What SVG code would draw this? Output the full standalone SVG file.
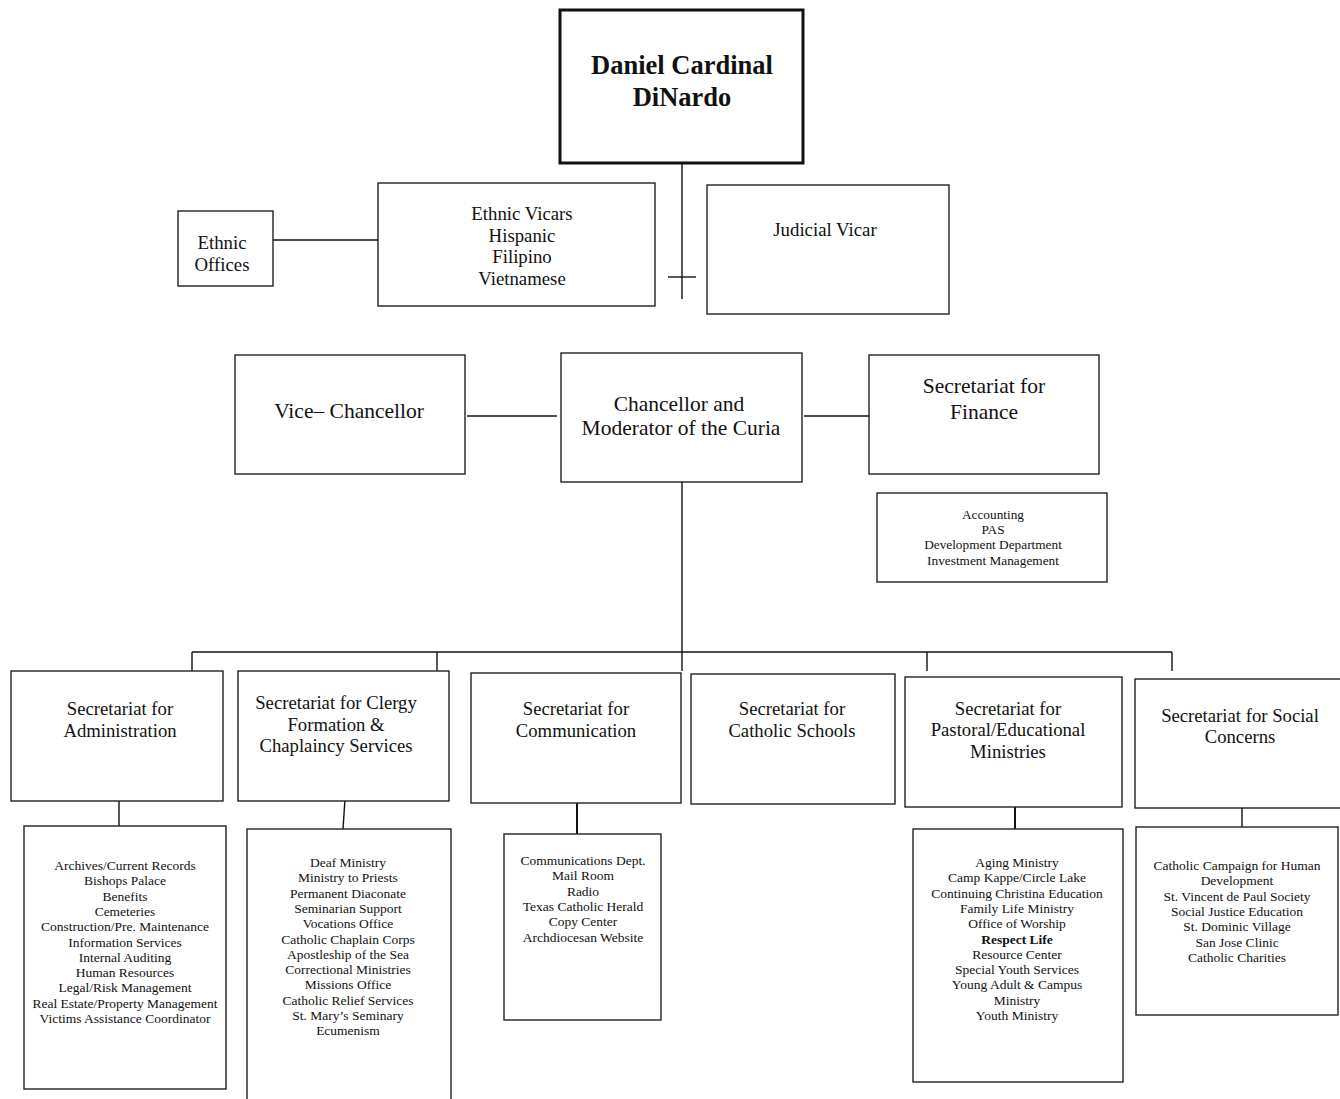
<svg xmlns="http://www.w3.org/2000/svg" width="1340" height="1099" viewBox="0 0 1340 1099">
<style>
rect{fill:#fff;stroke:#222;stroke-width:1.4}
.thick{stroke:#111;stroke-width:3}
text{font-family:"Liberation Serif","Times New Roman",serif;fill:#111;text-anchor:middle}
.top{font-size:26.5px;font-weight:bold}
.mid{font-size:18.8px}
.big{font-size:21.5px}
.sec{font-size:18.7px}
.lst{font-size:13.5px}
.acc{font-size:13.3px}
#connectors line{stroke:#111;stroke-width:1.4}
</style>
<rect width="1340" height="1099" style="fill:#fff;stroke:none"/>
<g id="connectors">
<line x1="682" y1="163" x2="682" y2="299"/>
<line x1="668" y1="277" x2="696" y2="277"/>
<line x1="266" y1="240" x2="378" y2="240"/>
<line x1="467" y1="416" x2="557" y2="416"/>
<line x1="804" y1="416" x2="869" y2="416"/>
<line x1="682" y1="482" x2="682" y2="671"/>
<line x1="192" y1="652" x2="1172" y2="652"/>
<line x1="192" y1="652" x2="192" y2="671"/>
<line x1="437" y1="652" x2="437" y2="671"/>
<line x1="927" y1="652" x2="927" y2="671"/>
<line x1="1172" y1="652" x2="1172" y2="671"/>
<line x1="119" y1="801" x2="119" y2="826"/>
<line x1="345" y1="799" x2="343" y2="829"/>
<line x1="577" y1="803" x2="577" y2="834" style="stroke-width:2"/>
<line x1="1015" y1="797" x2="1015" y2="829" style="stroke-width:2"/>
<line x1="1242" y1="798" x2="1242" y2="835"/>
</g>
<g id="n-cardinal">
<rect class="thick" x="560" y="10" width="243" height="153"/>
<text class="top" x="682" y="74">Daniel Cardinal</text>
<text class="top" x="682" y="106">DiNardo</text>
</g>
<g id="n-ethnic-offices">
<rect x="178" y="211" width="95" height="75"/>
<text class="mid" x="222" y="249">Ethnic</text>
<text class="mid" x="222" y="271">Offices</text>
</g>
<g id="n-ethnic-vicars">
<rect x="378" y="183" width="277" height="123"/>
<text class="mid" x="522" y="220">Ethnic Vicars</text>
<text class="mid" x="522" y="242">Hispanic</text>
<text class="mid" x="522" y="263">Filipino</text>
<text class="mid" x="522" y="285">Vietnamese</text>
</g>
<g id="n-judicial">
<rect x="707" y="185" width="242" height="129"/>
<text class="mid" x="825" y="236">Judicial Vicar</text>
</g>
<g id="n-vice">
<rect x="235" y="355" width="230" height="119"/>
<text class="big" x="349" y="418">Vice– Chancellor</text>
</g>
<g id="n-chancellor">
<rect x="561" y="353" width="241" height="129"/>
<text class="big" x="679" y="411">Chancellor and</text>
<text class="big" x="681" y="435">Moderator of the Curia</text>
</g>
<g id="n-finance">
<rect x="869" y="355" width="230" height="119"/>
<text class="big" x="984" y="393">Secretariat for</text>
<text class="big" x="984" y="419">Finance</text>
</g>
<g id="n-finance-list">
<rect x="877" y="493" width="230" height="89"/>
<text class="acc" x="993" y="519">Accounting</text>
<text class="acc" x="993" y="534">PAS</text>
<text class="acc" x="993" y="549">Development Department</text>
<text class="acc" x="993" y="565">Investment Management</text>
</g>
<g id="n-admin">
<rect x="11" y="671" width="212" height="130"/>
<text class="sec" x="120" y="715">Secretariat for</text>
<text class="sec" x="120" y="737">Administration</text>
</g>
<g id="n-clergy">
<rect x="238" y="671" width="211" height="130"/>
<text class="sec" x="336" y="709">Secretariat for Clergy</text>
<text class="sec" x="336" y="731">Formation &amp;</text>
<text class="sec" x="336" y="752">Chaplaincy Services</text>
</g>
<g id="n-communication">
<rect x="471" y="673" width="210" height="130"/>
<text class="sec" x="576" y="715">Secretariat for</text>
<text class="sec" x="576" y="737">Communication</text>
</g>
<g id="n-schools">
<rect x="691" y="674" width="204" height="130"/>
<text class="sec" x="792" y="715">Secretariat for</text>
<text class="sec" x="792" y="737">Catholic Schools</text>
</g>
<g id="n-pastoral">
<rect x="905" y="677" width="217" height="130"/>
<text class="sec" x="1008" y="715">Secretariat for</text>
<text class="sec" x="1008" y="736">Pastoral/Educational</text>
<text class="sec" x="1008" y="758">Ministries</text>
</g>
<g id="n-social">
<rect x="1135" y="679" width="210" height="129"/>
<text class="sec" x="1240" y="722">Secretariat for Social</text>
<text class="sec" x="1240" y="743">Concerns</text>
</g>
<g id="n-admin-list">
<rect x="24" y="826" width="202" height="263"/>
<text class="lst" x="125" y="870">Archives/Current Records</text>
<text class="lst" x="125" y="885.3">Bishops Palace</text>
<text class="lst" x="125" y="900.6">Benefits</text>
<text class="lst" x="125" y="915.9">Cemeteries</text>
<text class="lst" x="125" y="931.2">Construction/Pre. Maintenance</text>
<text class="lst" x="125" y="946.5">Information Services</text>
<text class="lst" x="125" y="961.8">Internal Auditing</text>
<text class="lst" x="125" y="977.1">Human Resources</text>
<text class="lst" x="125" y="992.4">Legal/Risk Management</text>
<text class="lst" x="125" y="1007.7">Real Estate/Property Management</text>
<text class="lst" x="125" y="1023">Victims Assistance Coordinator</text>
</g>
<g id="n-clergy-list">
<rect x="247" y="829" width="204" height="280"/>
<text class="lst" x="348" y="867">Deaf Ministry</text>
<text class="lst" x="348" y="882.3">Ministry to Priests</text>
<text class="lst" x="348" y="897.6">Permanent Diaconate</text>
<text class="lst" x="348" y="912.9">Seminarian Support</text>
<text class="lst" x="348" y="928.2">Vocations Office</text>
<text class="lst" x="348" y="943.5">Catholic Chaplain Corps</text>
<text class="lst" x="348" y="958.8">Apostleship of the Sea</text>
<text class="lst" x="348" y="974.1">Correctional Ministries</text>
<text class="lst" x="348" y="989.4">Missions Office</text>
<text class="lst" x="348" y="1004.7">Catholic Relief Services</text>
<text class="lst" x="348" y="1020">St. Mary’s Seminary</text>
<text class="lst" x="348" y="1035.3">Ecumenism</text>
</g>
<g id="n-comm-list">
<rect x="504" y="834" width="157" height="186"/>
<text class="lst" x="583" y="865">Communications Dept.</text>
<text class="lst" x="583" y="880.3">Mail Room</text>
<text class="lst" x="583" y="895.6">Radio</text>
<text class="lst" x="583" y="910.9">Texas Catholic Herald</text>
<text class="lst" x="583" y="926.2">Copy Center</text>
<text class="lst" x="583" y="941.5">Archdiocesan Website</text>
</g>
<g id="n-pastoral-list">
<rect x="913" y="829" width="210" height="253"/>
<text class="lst" x="1017" y="867">Aging Ministry</text>
<text class="lst" x="1017" y="882.3">Camp Kappe/Circle Lake</text>
<text class="lst" x="1017" y="897.6">Continuing Christina Education</text>
<text class="lst" x="1017" y="912.9">Family Life Ministry</text>
<text class="lst" x="1017" y="928.2">Office of Worship</text>
<text class="lst" x="1017" y="943.5" font-weight="bold">Respect Life</text>
<text class="lst" x="1017" y="958.8">Resource Center</text>
<text class="lst" x="1017" y="974.1">Special Youth Services</text>
<text class="lst" x="1017" y="989.4">Young Adult &amp; Campus</text>
<text class="lst" x="1017" y="1004.7">Ministry</text>
<text class="lst" x="1017" y="1020">Youth Ministry</text>
</g>
<g id="n-social-list">
<rect x="1136" y="827" width="202" height="188"/>
<text class="lst" x="1237" y="870">Catholic Campaign for Human</text>
<text class="lst" x="1237" y="885.3">Development</text>
<text class="lst" x="1237" y="900.6">St. Vincent de Paul Society</text>
<text class="lst" x="1237" y="915.9">Social Justice Education</text>
<text class="lst" x="1237" y="931.2">St. Dominic Village</text>
<text class="lst" x="1237" y="946.5">San Jose Clinic</text>
<text class="lst" x="1237" y="961.8">Catholic Charities</text>
</g>
</svg>
